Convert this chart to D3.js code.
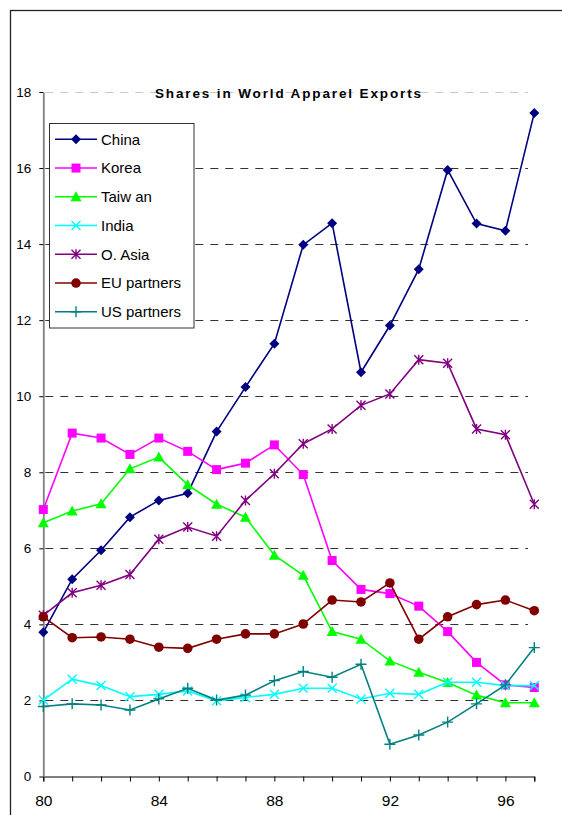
<!DOCTYPE html>
<html>
<head>
<meta charset="utf-8">
<script src="https://d3js.org/d3.v7.min.js"></script>
<style>
  body { margin: 0; background: #fff; }
  svg { display: block; font-family: "Liberation Sans", Arial, sans-serif; }
</style>
</head>
<body>
<svg width="562" height="815"></svg>
<script>
var years = [80, 81, 82, 83, 84, 85, 86, 87, 88, 89, 90, 91, 92, 93, 94, 95, 96, 97]
var china = [3.79, 5.19, 5.95, 6.82, 7.26, 7.45, 9.07, 10.24, 11.38, 13.98, 14.55, 10.63, 11.86, 13.34, 15.95, 14.54, 14.35, 17.45]
var korea = [7.02, 9.03, 8.9, 8.47, 8.9, 8.55, 8.07, 8.24, 8.72, 7.94, 5.68, 4.92, 4.81, 4.48, 3.81, 3.0, 2.41, 2.34]
var taiwan = [6.67, 6.98, 7.17, 8.09, 8.4, 7.67, 7.16, 6.82, 5.82, 5.29, 3.81, 3.61, 3.04, 2.74, 2.47, 2.14, 1.94, 1.94]
var india = [2.01, 2.56, 2.39, 2.1, 2.16, 2.25, 1.99, 2.08, 2.16, 2.32, 2.32, 2.04, 2.19, 2.16, 2.48, 2.48, 2.39, 2.39]
var oAsia = [4.24, 4.83, 5.03, 5.31, 6.24, 6.56, 6.32, 7.26, 7.96, 8.75, 9.14, 9.76, 10.06, 10.96, 10.87, 9.14, 8.99, 7.16]
var euPartners = [4.2, 3.65, 3.67, 3.61, 3.4, 3.37, 3.61, 3.75, 3.75, 4.01, 4.64, 4.59, 5.09, 3.61, 4.2, 4.52, 4.64, 4.36]
var usPartners = [1.84, 1.91, 1.88, 1.75, 2.04, 2.32, 2.01, 2.14, 2.52, 2.76, 2.61, 2.95, 0.85, 1.09, 1.43, 1.91, 2.41, 3.39]
var yTicks = [0, 2, 4, 6, 8, 10, 12, 14, 16, 18]
var xLabels = [80, 84, 88, 92, 96]
var title = 'Shares in World Apparel Exports'

var series = [
  { name: 'China', values: china, color: '#000080', marker: 'diamond' },
  { name: 'Korea', values: korea, color: '#ff00ff', marker: 'square' },
  { name: 'Taiw an', values: taiwan, color: '#00ff00', marker: 'triangle' },
  { name: 'India', values: india, color: '#00ffff', marker: 'x' },
  { name: 'O. Asia', values: oAsia, color: '#800080', marker: 'star' },
  { name: 'EU partners', values: euPartners, color: '#800000', marker: 'circle' },
  { name: 'US partners', values: usPartners, color: '#008080', marker: 'plus' },
]

var svg = d3.select('svg')

// outer frame (runs off the right and bottom edge)
svg
  .append('rect')
  .attr('x', 10.5)
  .attr('y', 10.5)
  .attr('width', 700)
  .attr('height', 900)
  .attr('fill', 'none')
  .attr('stroke', '#222')
  .attr('stroke-width', 1.3)

var x = d3.scaleLinear().domain([80, 97]).range([43.3, 534.3])
var y = d3.scaleLinear().domain([0, 18]).range([776.5, 92])

// gridlines
svg
  .append('g')
  .selectAll('line')
  .data(yTicks.filter(d => d > 0))
  .enter()
  .append('line')
  .attr('x1', x(80) + 2)
  .attr('x2', 528)
  .attr('y1', d => Math.round(y(d)) + 0.5)
  .attr('y2', d => Math.round(y(d)) + 0.5)
  .attr('stroke', d => (d === 18 ? '#c8c8c8' : '#333'))
  .attr('stroke-width', 1)
  .attr('stroke-dasharray', '8,7')

// x axis
var xAxis = svg
  .append('g')
  .attr('transform', 'translate(0,' + y(0) + ')')
  .call(
    d3
      .axisBottom(x)
      .tickValues(years)
      .tickSize(5)
      .tickFormat(d => (xLabels.indexOf(d) >= 0 ? d : ''))
  )
xAxis.select('.domain').attr('stroke', '#000').attr('stroke-width', 1)
xAxis.selectAll('.tick line').attr('stroke', '#000')
xAxis
  .selectAll('.tick text')
  .attr('font-family', '"Liberation Sans", Arial, sans-serif')
  .attr('font-size', 15.5)
  .attr('fill', '#000')
  .attr('dy', 0)
  .attr('y', 29)

// y axis
var yAxis = svg
  .append('g')
  .attr('transform', 'translate(' + x(80) + ',0)')
  .call(
    d3
      .axisLeft(y)
      .tickValues(yTicks)
      .tickSize(4)
      .tickSizeOuter(0)
  )
yAxis.select('.domain').attr('stroke', '#808080').attr('stroke-width', 1.8)
yAxis.selectAll('.tick line').attr('stroke', '#000')
yAxis
  .selectAll('.tick text')
  .attr('font-family', '"Liberation Sans", Arial, sans-serif')
  .attr('font-size', 13.5)
  .attr('fill', '#000')
  .attr('x', -12)

// title
svg
  .append('text')
  .attr('x', 155)
  .attr('y', 97.5)
  .attr('font-size', 13.5)
  .attr('font-weight', 'bold')
  .attr('textLength', 266)
  .attr('lengthAdjust', 'spacing')
  .text(title)

// marker shapes
function drawMarker(g, type, color) {
  if (type === 'diamond') {
    g.append('path').attr('d', 'M0,-5L5,0L0,5L-5,0Z').attr('fill', color)
  } else if (type === 'square') {
    g.append('rect')
      .attr('x', -4.5)
      .attr('y', -4.5)
      .attr('width', 9)
      .attr('height', 9)
      .attr('fill', color)
  } else if (type === 'triangle') {
    g.append('path').attr('d', 'M0,-5.5L5.5,4.5L-5.5,4.5Z').attr('fill', color)
  } else if (type === 'circle') {
    g.append('circle').attr('r', 4.8).attr('fill', color)
  } else {
    var d = ''
    if (type === 'x' || type === 'star') d += 'M-4.5,-4.5L4.5,4.5M-4.5,4.5L4.5,-4.5'
    if (type === 'star') d += 'M0,-5L0,5'
    if (type === 'plus') d += 'M-5.5,0L5.5,0M0,-5.5L0,5.5'
    g.append('path')
      .attr('d', d)
      .attr('fill', 'none')
      .attr('stroke', color)
      .attr('stroke-width', 1.4)
  }
}

var line = d3
  .line()
  .x((d, i) => x(years[i]))
  .y(d => y(d))

// draw each series, later ones on top
series.forEach(function(s) {
  var g = svg.append('g')
  g.append('path')
    .attr('d', line(s.values))
    .attr('fill', 'none')
    .attr('stroke', s.color)
    .attr('stroke-width', 1.6)
  s.values.forEach(function(v, i) {
    var m = g
      .append('g')
      .attr('transform', 'translate(' + x(years[i]) + ',' + y(v) + ')')
    drawMarker(m, s.marker, s.color)
  })
})

// legend
var legend = svg.append('g')
legend
  .append('rect')
  .attr('x', 49.5)
  .attr('y', 123.5)
  .attr('width', 144.5)
  .attr('height', 204.5)
  .attr('fill', '#fff')
  .attr('stroke', '#333')
  .attr('stroke-width', 1)

series.forEach(function(s, i) {
  var cy = 139.3 + i * 28.75
  var row = legend.append('g')
  row
    .append('line')
    .attr('x1', 55)
    .attr('x2', 97)
    .attr('y1', cy)
    .attr('y2', cy)
    .attr('stroke', s.color)
    .attr('stroke-width', 1.6)
  drawMarker(
    row.append('g').attr('transform', 'translate(76,' + cy + ')'),
    s.marker,
    s.color
  )
  row
    .append('text')
    .attr('x', 101)
    .attr('y', cy + 5.2)
    .attr('font-size', 15)
    .text(s.name)
})
</script>
</body>
</html>
